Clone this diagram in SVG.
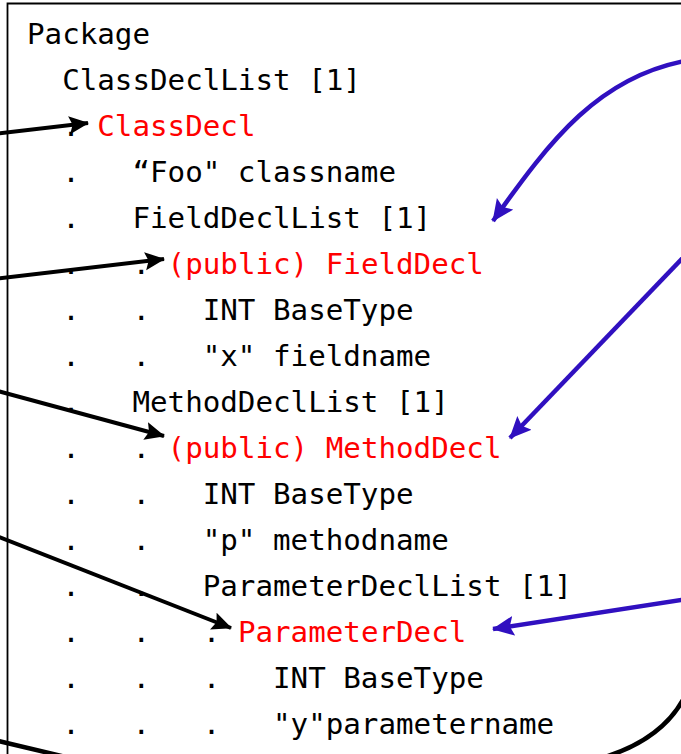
<svg xmlns="http://www.w3.org/2000/svg" width="681" height="754" viewBox="0 0 681 754">
  <style>
    .t { font-family: "DejaVu Sans Mono", "Liberation Mono", monospace; font-size: 29.2px; fill: #000; white-space: pre; }
    .r { fill: #ff0000; }
    .frame { fill: none; stroke: #000; stroke-width: 1.8; }
    .blk { fill: none; stroke: #000; stroke-width: 4; }
    .blu { fill: none; stroke: #3010c0; stroke-width: 4.5; }
    .big { fill: none; stroke: #000; stroke-width: 4.5; }
  </style>
  <defs>
    <marker id="headBlack" markerUnits="userSpaceOnUse" markerWidth="22" markerHeight="20" refX="19" refY="9" orient="auto">
      <path d="M0,0 L20,9 L0,18 L3.5,9 z" fill="#000"/>
    </marker>
    <marker id="headBlue" markerUnits="userSpaceOnUse" markerWidth="24" markerHeight="22" refX="21" refY="10" orient="auto">
      <path d="M0,0 L22,10 L0,20 L4,10 z" fill="#3010c0"/>
    </marker>
  </defs>

  <!-- frame: top and left edges of the panel -->
  <path class="frame" d="M7.5,760 L7.5,3.5 L690,3.5"/>

  <!-- tree listing -->
  <g id="n-package"><text class="t" x="27" y="44" xml:space="preserve">Package</text></g>
  <g id="n-classdecllist"><text class="t" x="27" y="90" xml:space="preserve">  ClassDeclList [1]</text></g>
  <g id="n-classdecl"><text class="t" x="27" y="136" xml:space="preserve">  . <tspan class="r">ClassDecl</tspan></text></g>
  <g id="n-classname"><text class="t" x="27" y="182" xml:space="preserve">  .   “Foo" classname</text></g>
  <g id="n-fielddecllist"><text class="t" x="27" y="228" xml:space="preserve">  .   FieldDeclList [1]</text></g>
  <g id="n-fielddecl"><text class="t" x="27" y="274" xml:space="preserve">  .   . <tspan class="r">(public) FieldDecl</tspan></text></g>
  <g id="n-field-type"><text class="t" x="27" y="320" xml:space="preserve">  .   .   INT BaseType</text></g>
  <g id="n-fieldname"><text class="t" x="27" y="366" xml:space="preserve">  .   .   "x" fieldname</text></g>
  <g id="n-methoddecllist"><text class="t" x="27" y="412" xml:space="preserve">  .   MethodDeclList [1]</text></g>
  <g id="n-methoddecl"><text class="t" x="27" y="458" xml:space="preserve">  .   . <tspan class="r">(public) MethodDecl</tspan></text></g>
  <g id="n-method-type"><text class="t" x="27" y="504" xml:space="preserve">  .   .   INT BaseType</text></g>
  <g id="n-methodname"><text class="t" x="27" y="550" xml:space="preserve">  .   .   "p" methodname</text></g>
  <g id="n-paramdecllist"><text class="t" x="27" y="596" xml:space="preserve">  .   .   ParameterDeclList [1]</text></g>
  <g id="n-paramdecl"><text class="t" x="27" y="642" xml:space="preserve">  .   .   . <tspan class="r">ParameterDecl</tspan></text></g>
  <g id="n-param-type"><text class="t" x="27" y="688" xml:space="preserve">  .   .   .   INT BaseType</text></g>
  <g id="n-paramname"><text class="t" x="27" y="734" xml:space="preserve">  .   .   .   "y"parametername</text></g>

  <!-- connectors -->
  <g id="connectors">
    <path class="blk" d="M-6,134 L88,123" marker-end="url(#headBlack)"/>
    <path class="blk" d="M-6,279 L164,259" marker-end="url(#headBlack)"/>
    <path class="blk" d="M-6,390 L164,436" marker-end="url(#headBlack)"/>
    <path class="blk" d="M-6,535 L231,628" marker-end="url(#headBlack)"/>

    <path class="blu" d="M690,60 C600,75 550,140 493,221" marker-end="url(#headBlue)"/>
    <path class="blu" d="M700,240 L510,438" marker-end="url(#headBlue)"/>
    <path class="blu" d="M700,597 L493,629" marker-end="url(#headBlue)"/>

    <path class="big" d="M-10,739 L70,758"/>
    <path class="big" d="M686,694 Q665,738 605,757"/>
  </g>
</svg>
